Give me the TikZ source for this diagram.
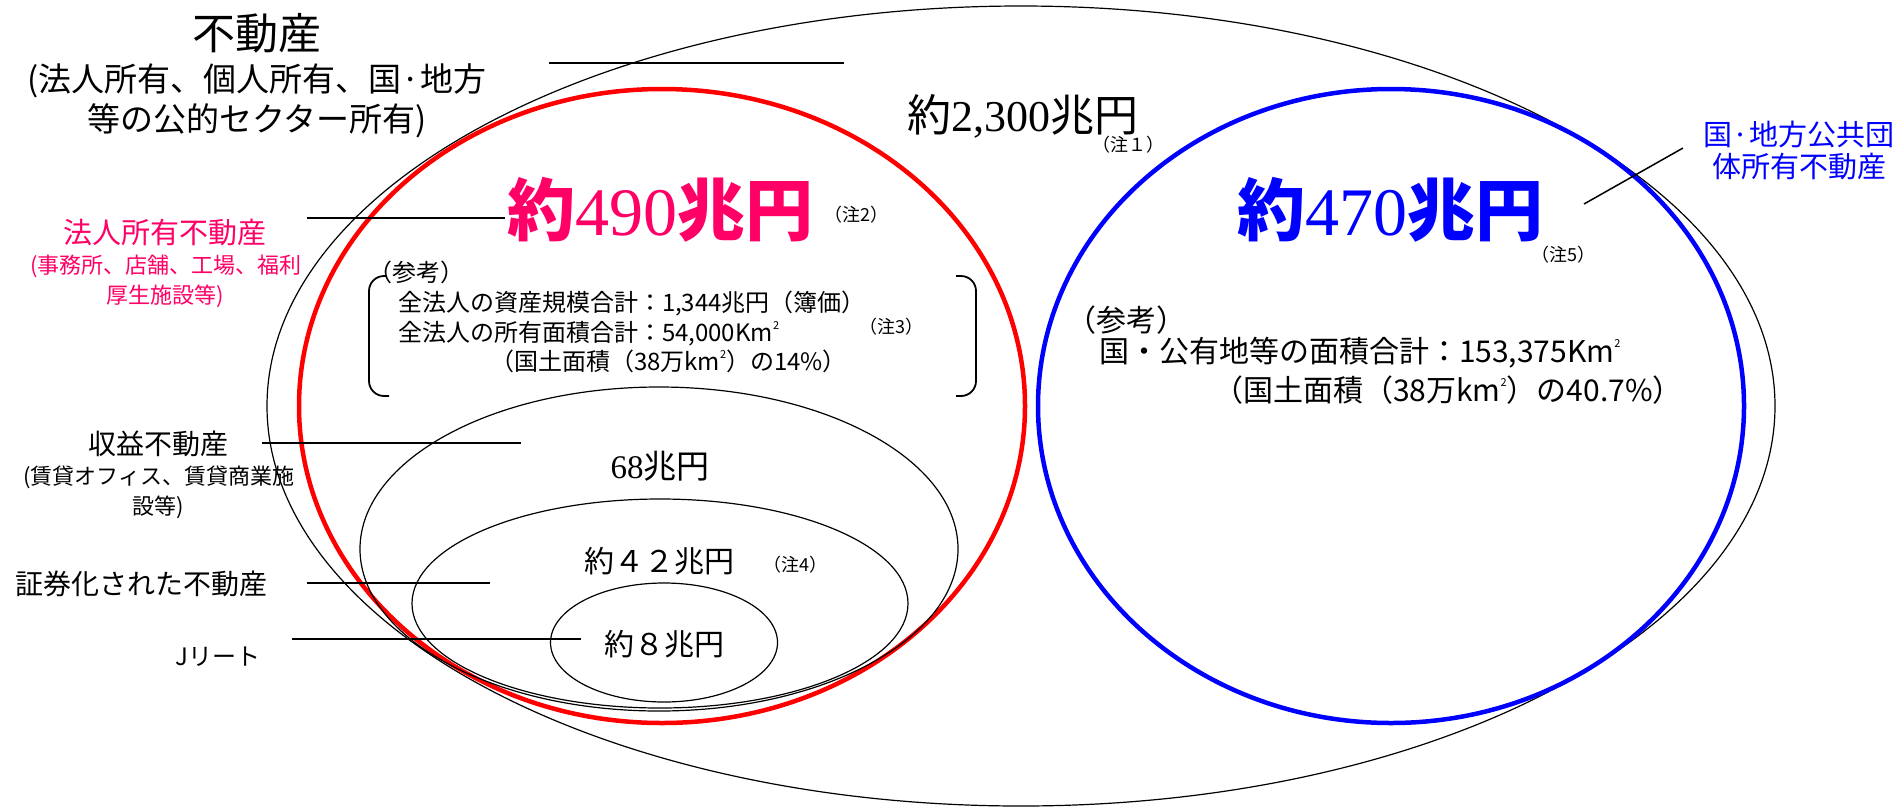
\documentclass[tikz,border=0pt]{standalone}
\usepackage{fontspec}
\setmainfont{Noto Sans CJK JP}
\newfontfamily\serdig{Liberation Serif}
\definecolor{pinkx}{RGB}{255,0,102}
\definecolor{bluex}{RGB}{0,0,255}
\definecolor{redx}{RGB}{255,0,0}
\newcommand\fsz[1]{\fontsize{#1}{#1}\selectfont}
\newcommand\sqr{\raisebox{0.5em}{\fsz{11}2}}
\begin{document}
\begin{tikzpicture}[x=1pt,y=-1pt,
  txt/.style={inner sep=0pt, outer sep=0pt},
  note/.style={txt, font=\fsz{18}},
  thinl/.style={line width=1.2pt},
  leader/.style={line width=1.5pt},
  thickl/.style={line width=4.5pt},
  brk/.style={line width=1.8pt, rounded corners=15pt}]
\fill[white] (0,0) rectangle (1898,807);
\useasboundingbox (0,0) rectangle (1898,807);

% ellipses
\draw[thinl] (1021,406) ellipse [x radius=754pt, y radius=400pt];
\draw[thickl, redx] (662,406) ellipse [x radius=363pt, y radius=317pt];
\draw[thickl, bluex] (1391,406) ellipse [x radius=353pt, y radius=317pt];
\draw[thinl] (659,549) ellipse [x radius=299pt, y radius=162pt];
\draw[thinl] (660,603.5) ellipse [x radius=248pt, y radius=104.5pt];
\draw[thinl] (664,642.5) ellipse [x radius=113.5pt, y radius=59.5pt];

% leader lines
\coordinate (l1a) at (549,63);  \coordinate (l1b) at (844,63);
\coordinate (l2a) at (307,218); \coordinate (l2b) at (505,218);
\coordinate (l3a) at (262,443); \coordinate (l3b) at (521,443);
\coordinate (l4a) at (307,583); \coordinate (l4b) at (490,583);
\coordinate (l5a) at (292,639); \coordinate (l5b) at (581,639);
\coordinate (l6a) at (1584,204); \coordinate (l6b) at (1683,148);
\draw[leader] (l1a) -- (l1b);
\draw[leader] (l2a) -- (l2b);
\draw[leader] (l3a) -- (l3b);
\draw[leader] (l4a) -- (l4b);
\draw[leader] (l5a) -- (l5b);
\draw[leader] (l6a) -- (l6b);

% brackets
\coordinate (b1a) at (386,276); \coordinate (b1b) at (369,396); \coordinate (b1c) at (389,396);
\coordinate (b2a) at (956,276); \coordinate (b2b) at (976,396); \coordinate (b2c) at (956,396);
\draw[brk] (b1a) -| (b1b) -- (b1c);
\draw[brk] (b2a) -| (b2b) -- (b2c);

% title
\node[txt, font=\fsz{43}] (t1) at (257,33) {不動産};
\node[txt, font=\fsz{33}] (t2) at (257,81) {(法人所有、個人所有、国·地方};
\node[txt, font=\fsz{33}] (t3) at (257,121) {等の公的セクター所有)};

% pink label
\node[txt, font=\fsz{29}, text=pinkx] (p1) at (165,233) {法人所有不動産};
\node[txt, font=\fsz{22}, text=pinkx] (p2) at (166,266) {(事務所、店舗、工場、福利};
\node[txt, font=\fsz{22}, text=pinkx] (p3) at (165,296) {厚生施設等)};

% blue label
\node[txt, font=\fsz{29}, text=bluex] (q1) at (1799,135) {国·地方公共団};
\node[txt, font=\fsz{29}, text=bluex] (q2) at (1799,167) {体所有不動産};

% left labels
\node[txt, font=\fsz{28}] (s1) at (158,444) {収益不動産};
\node[txt, font=\fsz{22}] (s2) at (159,477) {(賃貸オフィス、賃貸商業施};
\node[txt, font=\fsz{22}] (s3) at (158,507) {設等)};
\node[txt, font=\fsz{28}] (s4) at (142,584) {証券化された不動産};
\node[txt, font=\fsz{24}] (s5) at (218,657) {Jリート};

% amounts
\node[txt, font=\fsz{44}] (v1) at (1023,116) {約{\serdig 2,300}兆円};
\node[note] (n1) at (1128,145) {（注１）};
\node[txt, font=\fsz{68}, text=pinkx] (v2) at (660,210) {{\bfseries 約}{\serdig 490}{\bfseries 兆円}};
\node[note] (n2) at (856,215) {（注2）};
\node[txt, font=\fsz{68}, text=bluex] (v3) at (1390,210) {{\bfseries 約}{\serdig 470}{\bfseries 兆円}};
\node[note] (n5) at (1563,255) {（注5）};
\node[txt, font=\fsz{33}] (v4) at (660,466) {{\serdig 68}兆円};
\node[txt, font=\fsz{30}] (v5) at (659,561) {約４２兆円};
\node[note] (n4) at (795,565) {（注4）};
\node[txt, font=\fsz{30}] (v6) at (664,644) {約８兆円};

% left reference block
\node[txt, anchor=base west, font=\fsz{24}] (r1) at (368,281) {（参考）};
\node[txt, anchor=base west, font=\fsz{24}] (r2) at (398,311) {全法人の資産規模合計：1,344兆円（簿価）};
\node[txt, anchor=base west, font=\fsz{24}] (r3) at (398,341) {全法人の所有面積合計：54,000Km\sqr};
\node[txt, anchor=base west, font=\fsz{24}] (r4) at (490,370) {（国土面積（38万km\sqr）の14\%）};
\node[note] (n3) at (891,327) {（注3）};

% right reference block
\node[txt, anchor=base west, font=\fsz{30}] (g1) at (1066,331) {（参考）};
\node[txt, anchor=base west, font=\fsz{30}] (g2) at (1099,362) {国・公有地等の面積合計：153,375Km\sqr};
\node[txt, anchor=base west, font=\fsz{30}] (g3) at (1213,401) {（国土面積（38万km\sqr）の40.7\%）};
\end{tikzpicture}
\end{document}
